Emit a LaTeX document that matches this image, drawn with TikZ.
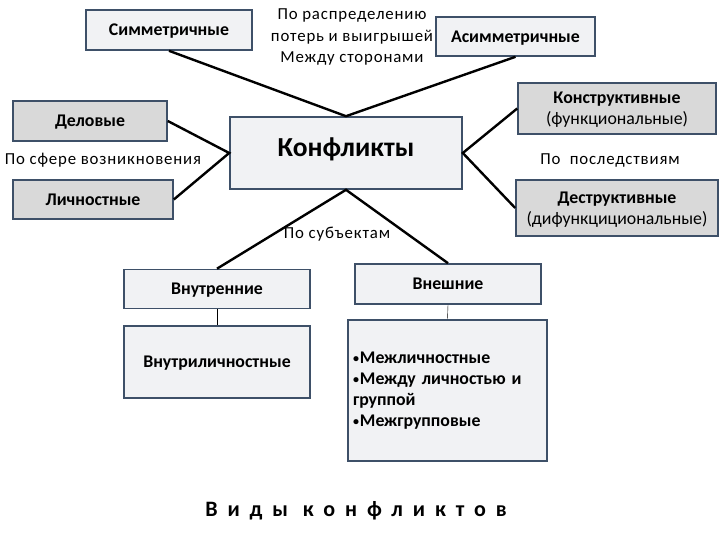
\documentclass[tikz,border=0pt]{standalone}
\usepackage{fontspec}
\setmainfont{Carlito}
\definecolor{bord}{HTML}{3E5068}
\definecolor{lightf}{HTML}{F1F2F4}
\definecolor{darkf}{HTML}{D9D9D9}
\definecolor{thin}{HTML}{9AA3AD}
\newcommand{\smb}{{\fontsize{12}{12}\selectfont\raisebox{1pt}{\textbullet}}\kern1pt}
\tikzset{
  box/.style={draw=bord, line width=1.6pt, rectangle, inner sep=2pt, align=center, text depth=0pt, font=\bfseries\fontsize{17.8}{21}\selectfont},
  lbox/.style={box, fill=lightf},
  dbox/.style={box, fill=darkf},
  conn/.style={line width=2.4pt, black},
  tconn/.style={line width=1pt, thin},
  lab/.style={align=center, font=\fontsize{16.8}{21.5}\selectfont\addfontfeature{LetterSpace=5}}
}
\begin{document}
\begin{tikzpicture}[x=1pt,y=-1pt]
\useasboundingbox (0,0) rectangle (720,540);
\node[lbox, minimum width=166pt, minimum height=40pt] (sym) at (169,30) {Симметричные};
\node[lbox, minimum width=159pt, minimum height=39pt] (asym) at (515.5,36.5) {Асимметричные};
\node[dbox, minimum width=154pt, minimum height=40pt] (del) at (90,121) {Деловые};
\node[dbox, minimum width=160pt, minimum height=39pt] (lich) at (93,199.5) {Личностные};
\node[lbox, minimum width=232pt, minimum height=72pt, font=\bfseries\fontsize{27.5}{30}\selectfont] (konf) at (346,153) {\raisebox{11pt}{Конфликты}};
\node[dbox, minimum width=198pt, minimum height=51pt] (konstr) at (617,108.5) {Конструктивные\\{\mdseries (функциональные)}};
\node[dbox, minimum width=202pt, minimum height=56pt] (destr) at (617,208) {Деструктивные\\{\mdseries (дифункцициональные)}};
\node[lbox, minimum width=186pt, minimum height=39pt] (vnut) at (217,289) {Внутренние};
\node[lbox, minimum width=186pt, minimum height=40pt] (vnesh) at (448,284) {Внешние};
\node[lbox, minimum width=186pt, minimum height=72pt] (vnutl) at (217,362) {Внутриличностные};
\node[lbox, text depth={}, minimum width=199pt, minimum height=141pt, align=left, text width=189pt, font=\bfseries\fontsize{17.8}{21}\selectfont] (bul) at (447.5,390.5) {\smb Межличностные\\\smb Между личностью и\\группой\\\smb Межгрупповые\\[12pt]};
\node[lab] (l1) at (352,37) {По распределению\\потерь и выигрышей\\Между сторонами};
\node[lab] (l2) at (103,160) {По сфере возникновения};
\node[lab] (l3) at (610,160) {По\ \ последствиям};
\node[lab] (l4) at (337,234) {По субъектам};
\node[font=\bfseries\fontsize{22}{26}\selectfont\addfontfeature{LetterSpace=45}] (title) at (356,511) {Виды конфликтов};
\draw[conn] (sym.south) -- (konf.north) -- (asym.south);
\draw[conn] (del.east) -- (konf.west) -- (lich.east);
\draw[conn] (konstr.west) -- (konf.east) -- (destr.west);
\draw[conn] (vnut.north) -- (konf.south) -- (vnesh.north);
\draw[tconn] (vnut.south) -- (vnutl.north);
\draw[tconn] (vnesh.south) -- (bul.north);
\end{tikzpicture}
\end{document}
